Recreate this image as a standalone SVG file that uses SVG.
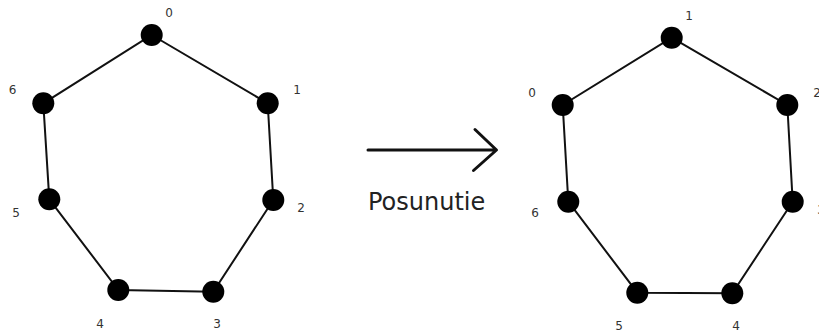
<svg xmlns="http://www.w3.org/2000/svg" width="819" height="335" viewBox="0 0 819 335">
  <style>
    .edge { stroke: #111; stroke-width: 2; fill: none; }
    .node { fill: #000; }
    .lbl { font-family: "DejaVu Sans", Verdana, sans-serif; font-size: 12px; fill: #333; text-anchor: middle; }
    .arrow { stroke: #111; stroke-width: 3; fill: none; stroke-linecap: round; stroke-linejoin: round; }
    .cap { font-family: "DejaVu Sans", Verdana, sans-serif; font-size: 24px; fill: #222; }
  </style>
  <rect width="819" height="335" fill="#fff"/>

  <!-- left cycle: edges -->
  <g id="left-edges">
    <polygon class="edge" points="151.7,35 267.7,103.3 273.3,200 213.3,291.7 118.3,290 49.3,199.3 43.3,103.3"/>
  </g>
  <!-- left cycle: vertices -->
  <g id="L0"><circle class="node" cx="151.7" cy="35" r="11"/><text class="lbl" x="169" y="17">0</text></g>
  <g id="L1"><circle class="node" cx="267.7" cy="103.3" r="11"/><text class="lbl" x="297" y="94">1</text></g>
  <g id="L2"><circle class="node" cx="273.3" cy="200" r="11"/><text class="lbl" x="301" y="212">2</text></g>
  <g id="L3"><circle class="node" cx="213.3" cy="291.7" r="11"/><text class="lbl" x="217" y="328">3</text></g>
  <g id="L4"><circle class="node" cx="118.3" cy="290" r="11"/><text class="lbl" x="100" y="328">4</text></g>
  <g id="L5"><circle class="node" cx="49.3" cy="199.3" r="11"/><text class="lbl" x="16" y="217">5</text></g>
  <g id="L6"><circle class="node" cx="43.3" cy="103.3" r="11"/><text class="lbl" x="12.5" y="94">6</text></g>

  <!-- shift arrow -->
  <g id="shift">
    <path class="arrow" d="M368,150 H496 M475,129.5 L496.5,150 L473.5,170.5"/>
    <text class="cap" x="368" y="210">Posunutie</text>
  </g>

  <!-- right cycle: edges -->
  <g id="right-edges">
    <polygon class="edge" points="671.7,37.7 787.3,105 792.7,201.7 732.3,293.3 637.3,292.7 568.3,201.7 562.7,105"/>
  </g>
  <!-- right cycle: vertices -->
  <g id="R1"><circle class="node" cx="671.7" cy="37.7" r="11"/><text class="lbl" x="689" y="19.5">1</text></g>
  <g id="R2"><circle class="node" cx="787.3" cy="105" r="11"/><text class="lbl" x="817" y="96.5">2</text></g>
  <g id="R3"><circle class="node" cx="792.7" cy="201.7" r="11"/><text class="lbl" x="821" y="214">3</text></g>
  <g id="R4"><circle class="node" cx="732.3" cy="293.3" r="11"/><text class="lbl" x="736" y="330">4</text></g>
  <g id="R5"><circle class="node" cx="637.3" cy="292.7" r="11"/><text class="lbl" x="619" y="330">5</text></g>
  <g id="R6"><circle class="node" cx="568.3" cy="201.7" r="11"/><text class="lbl" x="535" y="217">6</text></g>
  <g id="R0"><circle class="node" cx="562.7" cy="105" r="11"/><text class="lbl" x="532" y="96.5">0</text></g>
</svg>
